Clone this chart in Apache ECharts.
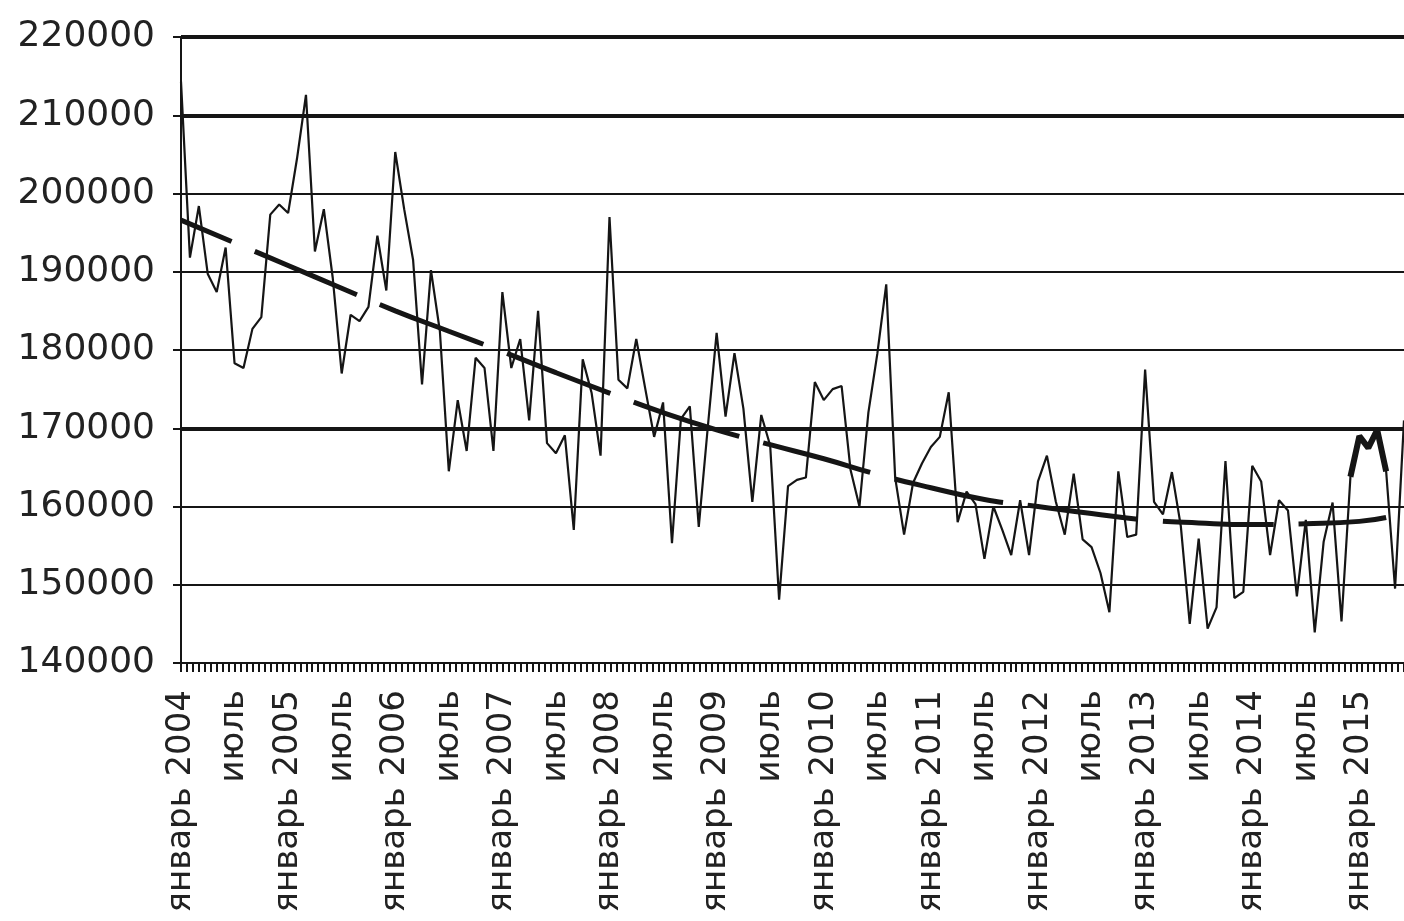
<!DOCTYPE html>
<html>
<head>
<meta charset="utf-8">
<script src="https://cdn.jsdelivr.net/npm/echarts@6/dist/echarts.min.js"></script>
<style>
  html, body { margin: 0; padding: 0; background: #fff; }
  #chart { width: 1404px; height: 921px; }
</style>
</head>
<body>
<div id="chart"></div>
<script>
// monthly series, январь 2004 .. июнь 2015
const startYear = 2004
const monthNames = ['январь', 'февраль', 'март', 'апрель', 'май', 'июнь',
  'июль', 'август', 'сентябрь', 'октябрь', 'ноябрь', 'декабрь']

const values = [
  214300, 191800, 198400, 189700, 187400, 193100, 178300, 177700, 182700, 184200, 197300, 198600,
  197500, 204500, 212600, 192600, 198000, 189200, 177000, 184500, 183700, 185500, 194600, 187600,
  205300, 198000, 191500, 175600, 190200, 182400, 164500, 173600, 167100, 179000, 177700, 167100,
  187400, 177700, 181400, 171000, 185000, 168100, 166800, 169100, 157000, 178800, 174500, 166500,
  197000, 176200, 175100, 181400, 175100, 168900, 173300, 155300, 171200, 172800, 157400, 170000,
  182200, 171500, 179600, 172500, 160600, 171700, 167800, 148100, 162600, 163400, 163700, 175900,
  173600, 175000, 175400, 164700, 160000, 172000, 179500, 188400, 163700, 156400, 163000, 165500,
  167600, 168900, 174600, 158000, 161900, 160300, 153300, 160000, 157000, 153800, 160800, 153800,
  163200, 166500, 160600, 156400, 164200, 155800, 154800, 151500, 146500, 164500, 156100, 156400,
  177500, 160600, 159000, 164400, 157500, 145000, 155900, 144400, 147100, 165800, 148300, 149100,
  165200, 163200, 153800, 160800, 159500, 148500, 158300, 143900, 155500, 160500, 145300, 163800,
  169000, 167500, 169800, 164500, 149500, 171000
]

// bold stretch at the end of the series
const boldStart = 131
const boldValues = [163800, 169000, 167500, 169800, 164500]

// dashed trend, read at half-year points
const trendMonths = [0, 6, 12, 18, 24, 30, 36, 42, 48, 54, 60, 66, 72, 78, 84, 90, 96, 102, 108, 114, 120, 126, 132, 135]
const trendValues = [196600, 193700, 190800, 187900, 185000, 182400, 179800, 177100, 174500, 172000, 169800, 167900,
  166100, 164100, 162400, 160900, 160000, 159100, 158300, 157900, 157700, 157800, 158100, 158600]

const yTicks = { min: 140000, max: 220000, step: 10000 }
const heavyLines = [220000, 210000, 170000]

const categories = values.map((v, i) => monthNames[i % 12] + ' ' + (startYear + Math.floor(i / 12)))
const boldData = values.map((v, i) => (i >= boldStart && i < boldStart + boldValues.length) ? boldValues[i - boldStart] : null)
const trendData = values.map(() => null)
trendMonths.forEach((m, k) => { trendData[m] = trendValues[k] })

const ink = '#151515'
const font = 'DejaVu Sans'
const monthStep = 8.96

const chart = echarts.init(document.getElementById('chart'))
chart.setOption({
  backgroundColor: '#fff',
  animation: false,
  grid: { left: 181, width: monthStep * (values.length - 1), top: 37, bottom: 258, containLabel: false },
  xAxis: [
    {
      type: 'category',
      data: categories,
      boundaryGap: false,
      axisLine: { lineStyle: { color: ink, width: 2 } },
      axisTick: { show: false },
      splitLine: { show: false },
      axisLabel: {
        interval: 0,
        rotate: 90,
        margin: 27,
        fontFamily: font,
        fontSize: 34,
        color: '#222',
        formatter: function (v) {
          if (v.indexOf('январь') === 0) return v
          if (v.indexOf('июль') === 0) return 'июль'
          return ''
        }
      }
    },
    {
      // dense minor ticks under the axis
      type: 'value',
      position: 'bottom',
      min: 0,
      max: 205,
      interval: 1,
      axisLine: { show: false },
      axisLabel: { show: false },
      splitLine: { show: false },
      axisTick: { show: true, length: 9, lineStyle: { color: ink, width: 2 } }
    }
  ],
  yAxis: {
    type: 'value',
    min: yTicks.min,
    max: yTicks.max,
    interval: yTicks.step,
    axisLine: { show: true, lineStyle: { color: ink, width: 2 } },
    axisTick: { show: true, length: 8, lineStyle: { color: ink, width: 2 } },
    splitLine: { show: true, lineStyle: { color: ink, width: 2 } },
    axisLabel: {
      margin: 26, fontFamily: font, fontSize: 36, color: '#222',
      formatter: function (v) { return String(v) }
    }
  },
  series: [
    {
      type: 'line',
      data: values,
      showSymbol: false,
      lineStyle: { color: ink, width: 2.2 },
      markLine: {
        silent: true,
        symbol: ['none', 'none'],
        label: { show: false },
        lineStyle: { color: ink, width: 4, type: 'solid' },
        data: heavyLines.map(v => ({ yAxis: v }))
      },
      z: 3
    },
    {
      type: 'line',
      data: trendData,
      connectNulls: true,
      smooth: true,
      showSymbol: false,
      lineStyle: { color: ink, width: 5, type: [111, 25], dashOffset: 56 },
      z: 4
    },
    {
      type: 'line',
      data: boldData,
      showSymbol: false,
      lineStyle: { color: ink, width: 6 },
      z: 5
    }
  ]
})
</script>
</body>
</html>
